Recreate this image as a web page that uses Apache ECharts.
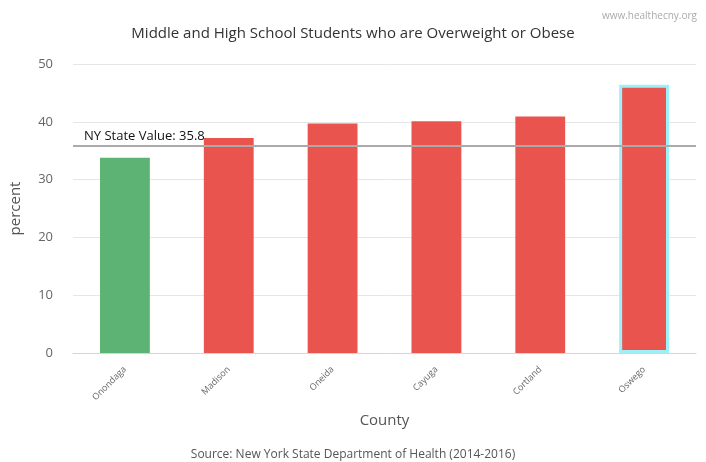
<!DOCTYPE html>
<html><head><meta charset="utf-8">
<script src="https://cdn.jsdelivr.net/npm/echarts@6/dist/echarts.min.js"></script>
<style>html,body{margin:0;padding:0;background:#fff}#c{width:706px;height:462px}</style>
</head><body><div id="c"></div>
<script>
const categories = ["Onondaga","Madison","Oneida","Cayuga","Cortland","Oswego"];
const values = [33.8, 37.2, 39.7, 40.1, 40.9, 46.4];
const barColors = ["#5DB373","#E9544F","#E9544F","#E9544F","#E9544F","#E9544F"];
const stateValue = 35.8;
const yTicks = [0,10,20,30,40,50];

const chart = echarts.init(document.getElementById('c'));
const font = '"Open Sans", "Noto Sans", sans-serif';
chart.setOption({
  animation:false,
  textStyle:{fontFamily:font},
  title:[
    {text:"Middle and High School Students who are Overweight or Obese",left:'center',top:21,textStyle:{fontSize:15,fontWeight:'normal',color:'#333',fontFamily:font}},
    {text:"www.healthecny.org",right:4,top:6,textStyle:{fontSize:10,fontWeight:'normal',color:'#aaa',fontFamily:font}},
    {text:"Source: New York State Department of Health (2014-2016)",left:'center',top:444,textStyle:{fontSize:12,fontWeight:'normal',color:'#555',fontFamily:font}}
  ],
  grid:{left:72,right:10,top:64,bottom:109},
  xAxis:{type:'category',data:categories,
    name:'County',nameLocation:'middle',nameGap:60,nameTextStyle:{fontSize:15,color:'#555'},
    axisLine:{lineStyle:{color:'#ccd6eb'}},axisTick:{show:false},
    axisLabel:{rotate:45,fontSize:9,color:'#666',margin:15}},
  yAxis:{type:'value',min:yTicks[0],max:yTicks[yTicks.length-1],interval:10,
    name:'percent',nameLocation:'middle',nameGap:50,nameTextStyle:{fontSize:15,color:'#555'},
    axisLine:{show:false},axisTick:{show:false},
    axisLabel:{fontSize:13,color:'#666',margin:20},
    splitLine:{lineStyle:{color:'#e6e6e6'}}},
  series:[{
    type:'bar',barWidth:'48%',
    data:values.map((v,i)=>({value:v,itemStyle:{color:barColors[i],
      borderColor: i===values.length-1 ? '#9ef0f8' : barColors[i],
      borderWidth: i===values.length-1 ? 3 : 0}})),
    markLine:{silent:true,symbol:'none',
      lineStyle:{color:'#aaaaaa',width:2,type:'solid'},
      label:{position:'insideStartTop',formatter:'NY State Value: '+stateValue,fontSize:13,color:'#111',distance:[11,3]},
      data:[{yAxis:stateValue}]}
  }]
});
</script></body></html>
